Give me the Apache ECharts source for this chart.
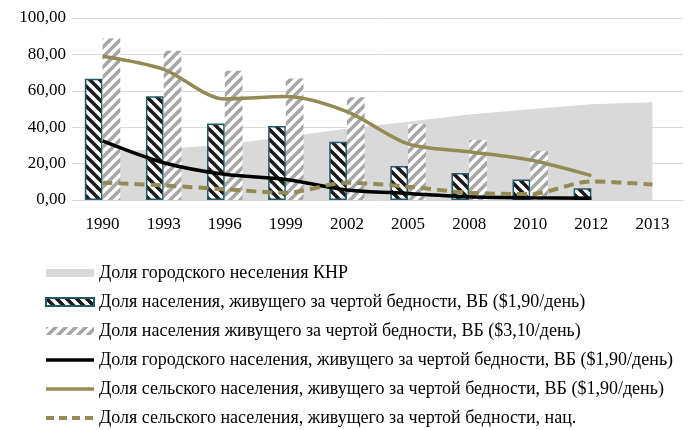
<!DOCTYPE html>
<html>
<head>
<meta charset="utf-8">
<script src="https://cdn.jsdelivr.net/npm/echarts@6/dist/echarts.min.js"></script>
<style>
  html, body { margin: 0; padding: 0; background: #fff; }
  #chart { width: 688px; height: 430px; }
</style>
</head>
<body>
<div id="chart"></div>
<script>
// данные
const years = ['1990', '1993', '1996', '1999', '2002', '2005', '2008', '2010', '2012', '2013']
const urbanShare = [26.4, 28.0, 30.5, 34.8, 39.1, 43.0, 47.0, 49.9, 52.6, 53.7]
const poor190 = [66.6, 57.0, 42.1, 40.6, 32.0, 18.7, 14.8, 11.3, 6.4, null]
const poor310 = [88.9, 82.0, 71.0, 66.7, 56.4, 41.8, 33.0, 27.0, null, null]
const urbanPoor190 = [32.5, 20.5, 14.1, 11.3, 5.5, 3.6, 1.8, 1.2, 0.9, null]
const ruralPoor190 = [79.0, 71.8, 55.5, 56.8, 48.5, 30.8, 26.5, 22.0, 13.4, null]
const ruralPoorNat = [9.5, 8.0, 5.9, 4.0, 9.5, 7.3, 4.0, 3.3, 10.2, 8.5]
const yTicks = { min: 0, max: 100, step: 20 }

const names = [
  'Доля городского неселения КНР',
  'Доля населения, живущего за чертой бедности, ВБ ($1,90/день)',
  'Доля населения живущего за чертой бедности, ВБ ($3,10/день)',
  'Доля городского населения, живущего за чертой бедности, ВБ ($1,90/день)',
  'Доля сельского населения, живущего за чертой бедности, ВБ ($1,90/день)',
  'Доля сельского населения, живущего за чертой бедности, нац.'
]

// штриховка для столбцов
function hatch (stroke, back) {
  const c = document.createElement('canvas')
  c.width = 10
  c.height = 10
  const ctx = c.getContext('2d')
  ctx.fillStyle = '#fff'
  ctx.fillRect(0, 0, 10, 10)
  ctx.strokeStyle = stroke
  ctx.lineWidth = 3.6
  for (let k = -10; k <= 10; k += 10) {
    ctx.beginPath()
    if (back) {
      ctx.moveTo(k - 2, -2)
      ctx.lineTo(k + 12, 12)
    } else {
      ctx.moveTo(k - 2, 12)
      ctx.lineTo(k + 12, -2)
    }
    ctx.stroke()
  }
  return { image: c, repeat: 'repeat' }
}

// значки легенды для линий (невидимые края держат размер 48x8)
const frame = ' M0,0h0.01v8h-0.01z M47.99,0h0.01v8h-0.01z'
const solidIcon = 'path://M0,2.3h48v3.4h-48z' + frame
const dashIcon = 'path://M0,2h8v4h-8z M13,2h8v4h-8z M26,2h8v4h-8z M39,2h8v4h-8z' + frame

const olive = '#948A54'
const font = '"Liberation Serif", "Times New Roman", serif'

const chart = echarts.init(document.getElementById('chart'))
chart.setOption({
  animation: false,
  textStyle: { fontFamily: font },
  grid: { left: 72, right: 5, top: 18, bottom: 230 },
  legend: {
    orient: 'vertical',
    left: 40,
    top: 259,
    height: 170,
    itemWidth: 48,
    itemHeight: 8,
    itemGap: 11,
    textStyle: { fontFamily: font, fontSize: 18, color: '#000' },
    data: [
      { name: names[0], icon: 'rect' },
      { name: names[1], icon: 'rect' },
      { name: names[2], icon: 'rect' },
      { name: names[3], icon: solidIcon },
      { name: names[4], icon: solidIcon },
      { name: names[5], icon: dashIcon }
    ]
  },
  xAxis: {
    type: 'category',
    data: years,
    axisLine: { lineStyle: { color: '#D9D9D9' } },
    axisTick: { show: false },
    axisLabel: { color: '#000', fontSize: 17, fontFamily: font, margin: 16 }
  },
  yAxis: {
    type: 'value',
    min: yTicks.min,
    max: yTicks.max,
    interval: yTicks.step,
    axisLabel: {
      color: '#000', fontSize: 17, fontFamily: font, margin: 6,
      formatter: v => v.toFixed(2).replace('.', ',')
    },
    splitLine: { lineStyle: { color: '#D9D9D9', width: 1 } }
  },
  series: [
    {
      name: names[0],
      type: 'line',
      z: 1,
      data: urbanShare,
      symbol: 'none',
      color: '#D9D9D9',
      lineStyle: { width: 0 },
      areaStyle: { color: '#D9D9D9', opacity: 1 }
    },
    {
      name: names[1],
      type: 'bar',
      data: poor190,
      barGap: '0%',
      barCategoryGap: '42%',
      itemStyle: { color: hatch('#1a1a1a', true), borderColor: '#215967', borderWidth: 1.5 }
    },
    {
      name: names[2],
      type: 'bar',
      data: poor310,
      itemStyle: { color: hatch('#A6A6A6', false) }
    },
    {
      name: names[3],
      type: 'line',
      data: urbanPoor190,
      symbol: 'none',
      smooth: 0.3,
      color: '#000',
      lineStyle: { color: '#000', width: 3.5 }
    },
    {
      name: names[4],
      type: 'line',
      data: ruralPoor190,
      symbol: 'none',
      smooth: 0.3,
      color: olive,
      lineStyle: { color: olive, width: 3.5 }
    },
    {
      name: names[5],
      type: 'line',
      data: ruralPoorNat,
      symbol: 'none',
      smooth: 0.3,
      color: olive,
      lineStyle: { color: olive, width: 4, type: [10, 6] }
    }
  ]
})
</script>
</body>
</html>
